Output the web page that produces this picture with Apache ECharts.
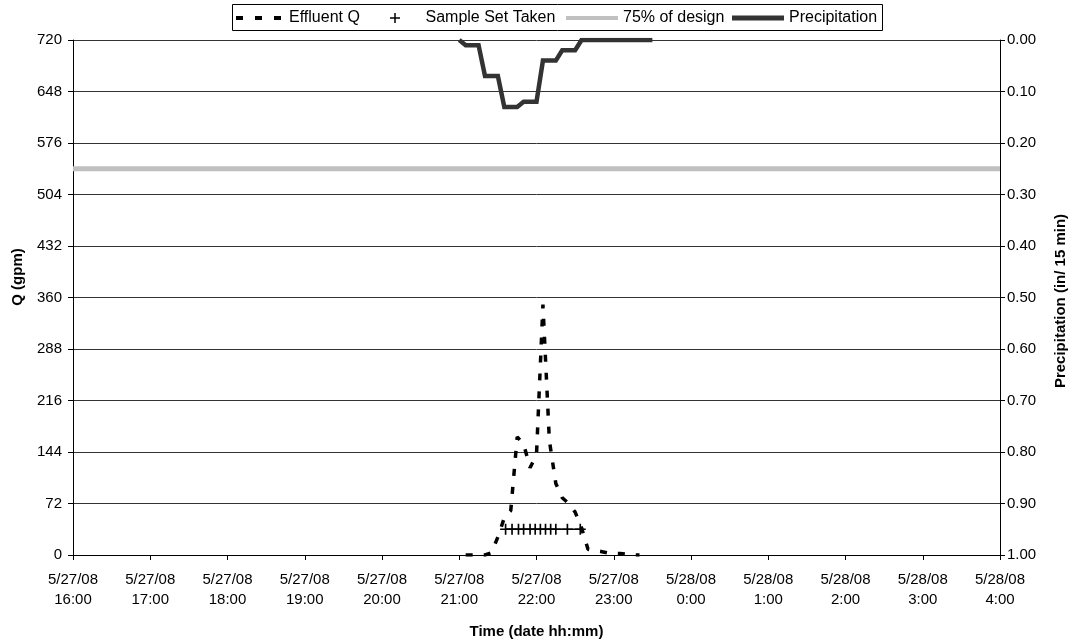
<!DOCTYPE html>
<html>
<head>
<meta charset="utf-8">
<script src="https://cdn.jsdelivr.net/npm/echarts@6/dist/echarts.min.js"></script>
<style>
html,body{margin:0;padding:0;background:#fff;}
#c{width:1072px;height:643px;}
</style>
</head>
<body>
<div id="c"></div>
<script>
// ---- data (times are clock times on 5/27/08 unless noted) ----
var xTickLabels = ['5/27/08\n16:00','5/27/08\n17:00','5/27/08\n18:00','5/27/08\n19:00','5/27/08\n20:00','5/27/08\n21:00','5/27/08\n22:00','5/27/08\n23:00','5/28/08\n0:00','5/28/08\n1:00','5/28/08\n2:00','5/28/08\n3:00','5/28/08\n4:00'];
var startClock = '16:00';

var flowTimes = ['21:05','21:10','21:15','21:20','21:25','21:30','21:35','21:40','21:45','21:50','21:55','22:00','22:05','22:10','22:15','22:20','22:25','22:30','22:35','22:40','22:45','22:50','22:55','23:00','23:05','23:10','23:15','23:20'];
var flowQ     = [0,0,0,0,3,25,52,62,165,155,122,140,350,160,100,80,72,60,38,8,6,5,3,2,2,1,0,0];

var sampleTimes = ['21:36','21:41','21:46','21:50','21:55','21:59','22:03','22:07','22:11','22:15','22:24','22:34'];
var sampleQ     = [36,36,36,36,36,36,36,36,36,36,36,36];

var designTimes = ['16:00','04:00+1'];
var designQ     = [540,540];

var precipTimes = ['21:00','21:05','21:10','21:15','21:20','21:25','21:30','21:35','21:40','21:45','21:50','21:55','22:00','22:05','22:10','22:15','22:20','22:25','22:30','22:35','22:40','22:45','22:50','22:55','23:00','23:05','23:10','23:15','23:20','23:25','23:30'];
var precipIn    = [0,0.01,0.01,0.01,0.07,0.07,0.07,0.13,0.13,0.13,0.12,0.12,0.12,0.04,0.04,0.04,0.02,0.02,0.02,0,0,0,0,0,0,0,0,0,0,0,0];

// ---- helpers ----
function toMin(t){
  var nextDay = t.indexOf('+1') >= 0;
  var p = t.replace('+1','').split(':');
  var s = startClock.split(':');
  var m = (+p[0])*60 + (+p[1]) - ((+s[0])*60 + (+s[1]));
  if (nextDay) m += 1440;
  return m;
}
function pairs(ts, vs){ return ts.map(function(t,i){ return [toMin(t), vs[i]]; }); }

var FONT = "'Liberation Sans', Arial, sans-serif";
var chart = echarts.init(document.getElementById('c'), null, {renderer:'canvas'});

var plusPath = 'path://M4.25,0h1.5v10h-1.5z M0,4.25h10v1.5h-10z';
var dashPath = 'path://M0,0h7v4h-7z M19,0h7v4h-7z M38,0h7v4h-7z';
var linePath = 'path://M0,0h52v4h-52z';
var thickPath = 'path://M0,0h52v5h-52z';

function legendOf(name, left, icon, w, h, color, padL){
  return {
    show:true, left:left, top:10, orient:'horizontal',
    data:[{name:name, icon:icon, itemStyle:{color:color, borderWidth:0}}],
    itemWidth:w, itemHeight:h, padding:0, selectedMode:false,
    textStyle:{fontFamily:FONT, fontSize:16, color:'#000', padding:[0,0,0,padL]}
  };
}

chart.setOption({
  animation:false,
  backgroundColor:'#fff',
  graphic:[
    {type:'rect', z:-1, shape:{x:232.5,y:4.5,width:650,height:26}, style:{fill:'#fff', stroke:'#000', lineWidth:1}},
    {type:'text', x:18, y:277, rotation:Math.PI/2,
      style:{text:'Q (gpm)', font:"bold 15px 'Liberation Sans', Arial, sans-serif", fill:'#000', align:'center', verticalAlign:'middle'}},
    {type:'text', x:1061, y:301, rotation:Math.PI/2,
      style:{text:'Precipitation (in/ 15 min)', font:"bold 15px 'Liberation Sans', Arial, sans-serif", fill:'#000', align:'center', verticalAlign:'middle'}}
  ],
  legend:[
    legendOf('Effluent Q', 236, dashPath, 45, 4, '#000', 3),
    legendOf('Sample Set Taken', 390, plusPath, 45, 10, '#000', 3),
    legendOf('75% of design', 566, linePath, 52, 5, '#c0c0c0', 0),
    legendOf('Precipitation', 732, thickPath, 52, 5, '#333', 0)
  ],
  grid:{left:73, right:72, top:40, bottom:88, containLabel:false, outerBoundsMode:'none'},
  xAxis:{
    type:'value', min:0, max:720, interval:60,
    name:'Time (date hh:mm)', nameLocation:'middle', nameGap:69,
    nameTextStyle:{fontFamily:FONT, fontSize:15, fontWeight:'bold', color:'#000'},
    axisLine:{show:true, onZero:false, lineStyle:{color:'#000', width:1}},
    axisTick:{show:true, length:5, inside:false, lineStyle:{color:'#000'}},
    splitLine:{show:false},
    axisLabel:{fontFamily:FONT, fontSize:15, color:'#000', lineHeight:20, margin:15,
      formatter:function(v){ return xTickLabels[Math.round(v/60)]; }}
  },
  yAxis:[{
    type:'value', min:0, max:720, interval:72, position:'left',
    axisLine:{show:true, lineStyle:{color:'#000', width:1}},
    axisTick:{show:true, length:5, lineStyle:{color:'#000'}},
    splitLine:{show:true, lineStyle:{color:'#333', width:1}},
    axisLabel:{fontFamily:FONT, fontSize:15, color:'#000', margin:11,
      formatter:function(v){ return String(v); }}
  },{
    type:'value', min:0, max:1, interval:0.1, inverse:true, position:'right',
    axisLine:{show:true, lineStyle:{color:'#000', width:1}},
    axisTick:{show:true, length:5, lineStyle:{color:'#000'}},
    splitLine:{show:false},
    axisLabel:{fontFamily:FONT, fontSize:15, color:'#000', margin:7,
      formatter:function(v){ return v.toFixed(2); }}
  }],
  series:[
    {name:'75% of design', type:'line', yAxisIndex:0, data:pairs(designTimes, designQ),
      showSymbol:false, symbol:'none', itemStyle:{color:'#c0c0c0'},
      lineStyle:{color:'#c0c0c0', width:5}, z:1},
    {name:'Precipitation', type:'line', yAxisIndex:1, data:pairs(precipTimes, precipIn),
      showSymbol:false, symbol:'none', itemStyle:{color:'#333'},
      lineStyle:{color:'#333', width:4.5, join:'miter'}, z:2},
    {name:'Sample Set Taken', type:'line', yAxisIndex:0, data:pairs(sampleTimes, sampleQ),
      symbol:plusPath, symbolSize:11, showSymbol:true, itemStyle:{color:'#000'},
      lineStyle:{color:'#000', width:1.3}, z:3},
    {name:'Effluent Q', type:'line', yAxisIndex:0, data:pairs(flowTimes, flowQ),
      showSymbol:false, symbol:'none', itemStyle:{color:'#000'},
      lineStyle:{color:'#000', width:3.5, type:[7,11]}, z:4}
  ]
});
</script>
</body>
</html>
